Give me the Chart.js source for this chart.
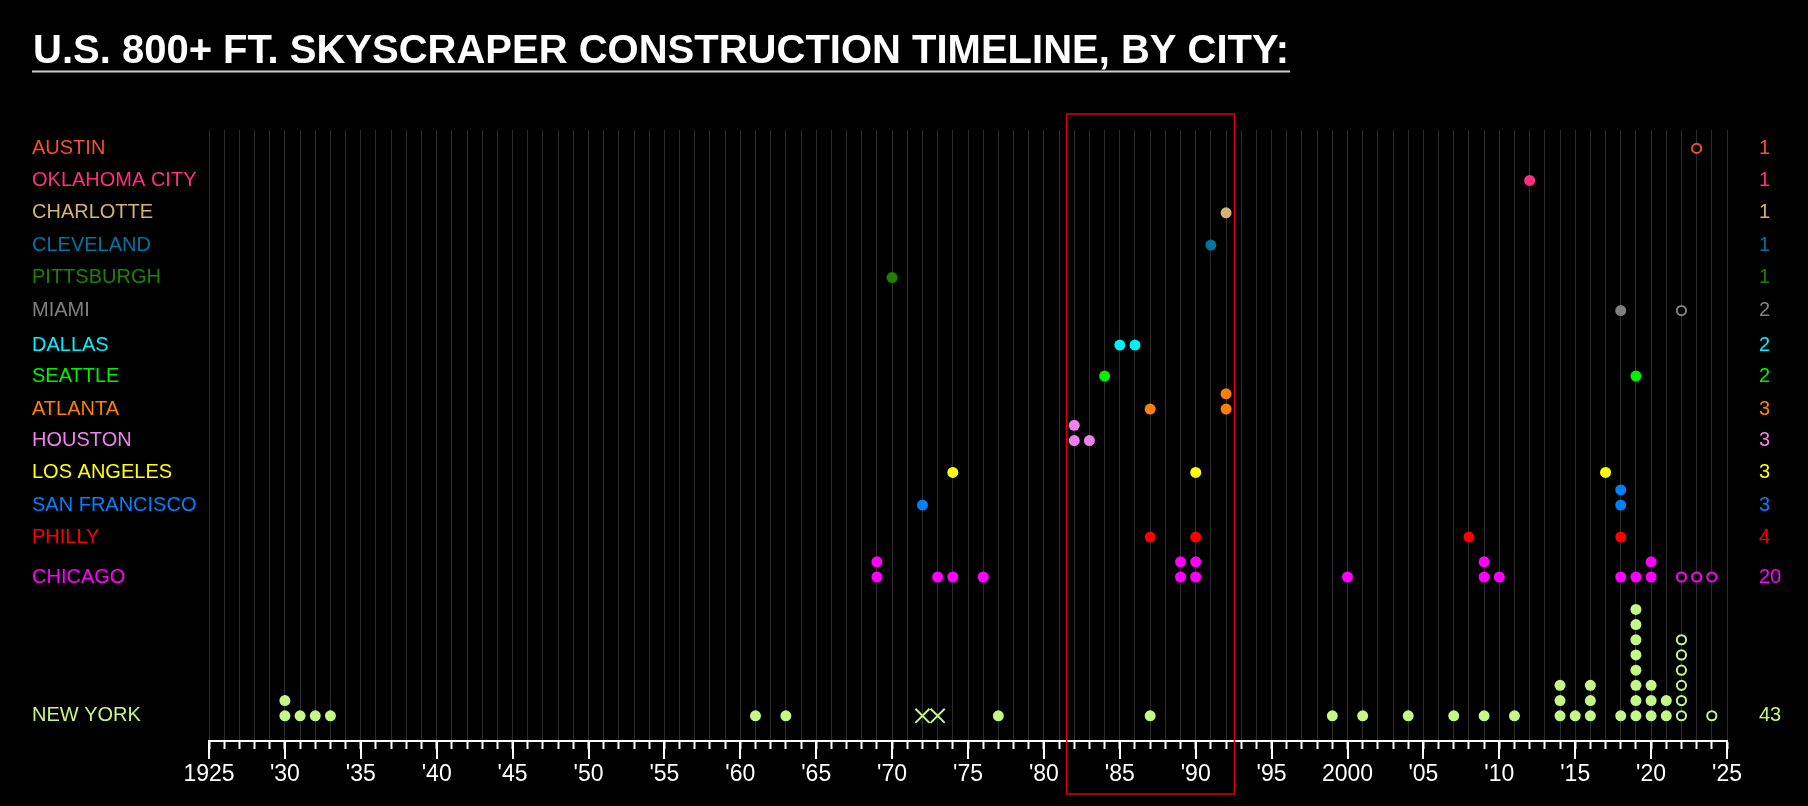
<!DOCTYPE html>
<html>
<head>
<meta charset="utf-8">
<title>U.S. 800+ ft. skyscraper construction timeline, by city</title>
<script src="https://cdn.jsdelivr.net/npm/chart.js@4.4.1/dist/chart.umd.min.js"></script>
<style>
  html, body { margin: 0; padding: 0; background: #000; }
  #wrap { position: relative; width: 1808px; height: 806px; }
</style>
</head>
<body>
<div id="wrap"><canvas id="chart" width="1808" height="806"></canvas></div>
<script>
const titleText = 'U.S. 800+ FT. SKYSCRAPER CONSTRUCTION TIMELINE, BY CITY:';

// rows, top to bottom
const cities = ['AUSTIN', 'OKLAHOMA CITY', 'CHARLOTTE', 'CLEVELAND', 'PITTSBURGH', 'MIAMI', 'DALLAS',
  'SEATTLE', 'ATLANTA', 'HOUSTON', 'LOS ANGELES', 'SAN FRANCISCO', 'PHILLY', 'CHICAGO', 'NEW YORK'];
const cityColors = ['#f4502c', '#ff2f80', '#d2b472', '#0074a2', '#1e8200', '#808080', '#00f0ff',
  '#00f000', '#ff8000', '#f080f0', '#ffff00', '#0080ff', '#ff0000', '#ff00ff', '#c4f884'];
// baseline of each row on the y scale (one unit = one stacked tower)
const rowLevels = [37.33, 35.22, 33.09, 30.97, 28.83, 26.66, 24.39, 22.35, 20.18, 18.11, 16.01, 13.86, 11.76, 9.13, 0];
const totals = [1, 1, 1, 1, 1, 2, 2, 2, 3, 3, 3, 3, 4, 20, 43];

// completed towers, one entry per building
const builtYears = [
  [],
  [2012],
  [1992],
  [1991],
  [1970],
  [2018],
  [1985, 1986],
  [1984, 2019],
  [1987, 1992, 1992],
  [1982, 1982, 1983],
  [1974, 1990, 2017],
  [1972, 2018, 2018],
  [1987, 1990, 2008, 2018],
  [1969, 1969, 1973, 1974, 1976, 1989, 1989, 1990, 1990, 2000, 2009, 2009, 2010, 2018, 2019, 2020, 2020],
  [1930, 1930, 1931, 1932, 1933, 1961, 1963, 1977, 1987, 1999, 2001, 2004, 2007, 2009, 2011,
   2014, 2014, 2014, 2015, 2016, 2016, 2016, 2018,
   2019, 2019, 2019, 2019, 2019, 2019, 2019, 2019, 2020, 2020, 2020, 2021, 2021]
];
// under construction / planned (open circles)
const plannedYears = [
  [2023], [], [], [], [], [2022], [], [], [], [], [], [], [],
  [2022, 2023, 2024],
  [2022, 2022, 2022, 2022, 2022, 2022, 2024]
];
// destroyed (World Trade Center)
const destroyedNY = [1972, 1973];

const xTickYears = [1925, 1930, 1935, 1940, 1945, 1950, 1955, 1960, 1965, 1970, 1975, 1980, 1985, 1990,
  1995, 2000, 2005, 2010, 2015, 2020, 2025];
const xTickLabels = ['1925', "'30", "'35", "'40", "'45", "'50", "'55", "'60", "'65", "'70", "'75", "'80",
  "'85", "'90", "'95", '2000', "'05", "'10", "'15", "'20", "'25"];
const highlightYears = [1981.5, 1992.55];

const FONT = '"Liberation Sans", Arial, Helvetica, sans-serif';

const datasets = [];
cities.forEach((city, i) => {
  const used = {};
  const stack = yr => {
    const k = used[yr] || 0;
    used[yr] = k + 1;
    return { x: yr, y: rowLevels[i] + k };
  };
  const built = builtYears[i].map(stack);
  const planned = plannedYears[i].map(stack);
  datasets.push({
    label: city, data: built,
    pointRadius: 5.5, pointHoverRadius: 5.5, pointBorderWidth: 0,
    backgroundColor: cityColors[i], borderColor: cityColors[i]
  });
  if (planned.length) {
    datasets.push({
      label: city + ' (planned)', data: planned,
      pointRadius: 4.6, pointHoverRadius: 4.6, pointBorderWidth: 2,
      backgroundColor: '#000', borderColor: cityColors[i]
    });
  }
});
const nyIdx = cities.indexOf('NEW YORK');
datasets.push({
  label: 'NEW YORK (destroyed)',
  data: destroyedNY.map(yr => ({ x: yr, y: rowLevels[nyIdx] })),
  pointStyle: 'crossRot', pointRadius: 10, pointHoverRadius: 10, pointBorderWidth: 2,
  borderColor: cityColors[nyIdx], backgroundColor: cityColors[nyIdx]
});

const titlePlugin = {
  id: 'titleLine',
  beforeDraw(chart) {
    const c = chart.ctx;
    c.save();
    c.fillStyle = '#000';
    c.fillRect(0, 0, chart.width, chart.height);
    c.font = 'bold 40px ' + FONT;
    c.fillStyle = '#fff';
    c.textBaseline = 'alphabetic';
    c.fillText(titleText, 33, 63);
    const w = c.measureText(titleText).width;
    c.strokeStyle = '#cfcfcf';
    c.lineWidth = 2;
    c.beginPath();
    c.moveTo(32, 71.5);
    c.lineTo(34 + w, 71.5);
    c.stroke();
    c.restore();
  }
};

const extrasPlugin = {
  id: 'extras',
  afterDraw(chart) {
    const c = chart.ctx, x = chart.scales.x, a = chart.chartArea;
    c.save();
    // longer ticks every 5 years
    c.strokeStyle = '#fff';
    c.lineWidth = 2;
    xTickYears.forEach(yr => {
      const px = Math.round(x.getPixelForValue(yr));
      c.beginPath();
      c.moveTo(px, a.bottom);
      c.lineTo(px, a.bottom + 18);
      c.stroke();
    });
    // highlight box
    const l = x.getPixelForValue(highlightYears[0]);
    const r = x.getPixelForValue(highlightYears[1]);
    c.strokeStyle = '#e00000';
    c.lineWidth = 1.5;
    c.strokeRect(l, a.top - 16, r - l, a.bottom - a.top + 69);
    c.restore();
  }
};

const yMin = -1.66, yMax = 38.54;

new Chart(document.getElementById('chart'), {
  type: 'scatter',
  data: { datasets },
  plugins: [titlePlugin, extrasPlugin],
  options: {
    responsive: false,
    devicePixelRatio: 1,
    animation: false,
    layout: { padding: { left: 32, top: 130, right: 0, bottom: 0 } },
    plugins: { legend: { display: false }, tooltip: { enabled: false } },
    scales: {
      x: {
        type: 'linear', position: 'bottom', min: 1925, max: 2025,
        afterFit: s => { s.height = 65; },
        grid: { color: '#2c2c2c', lineWidth: 1, tickColor: '#fff', tickWidth: 2, tickLength: 8 },
        border: { color: '#fff', width: 2 },
        ticks: {
          stepSize: 1, autoSkip: false, maxRotation: 0, padding: 12,
          color: '#fff', font: { family: FONT, size: 23 },
          callback: v => {
            const i = xTickYears.indexOf(Math.round(v));
            return i >= 0 && Math.abs(v - Math.round(v)) < 1e-6 ? xTickLabels[i] : '';
          }
        }
      },
      y: {
        position: 'left', min: yMin, max: yMax,
        afterBuildTicks: s => { s.ticks = rowLevels.map(v => ({ value: v })); },
        afterFit: s => { s.width = 177; },
        grid: { display: false, drawTicks: false }, border: { display: false },
        ticks: {
          autoSkip: false, crossAlign: 'far', padding: 0,
          font: { family: FONT, size: 20 },
          color: ctx => cityColors[ctx.index],
          callback: (v, i) => cities[i]
        }
      },
      y2: {
        position: 'right', min: yMin, max: yMax,
        afterBuildTicks: s => { s.ticks = rowLevels.map(v => ({ value: v })); },
        afterFit: s => { s.width = 81; },
        grid: { display: false, drawTicks: false }, border: { display: false },
        ticks: {
          autoSkip: false, crossAlign: 'near', padding: 32,
          font: { family: FONT, size: 20 },
          color: ctx => cityColors[ctx.index],
          callback: (v, i) => String(totals[i])
        }
      }
    }
  }
});
</script>
</body>
</html>
